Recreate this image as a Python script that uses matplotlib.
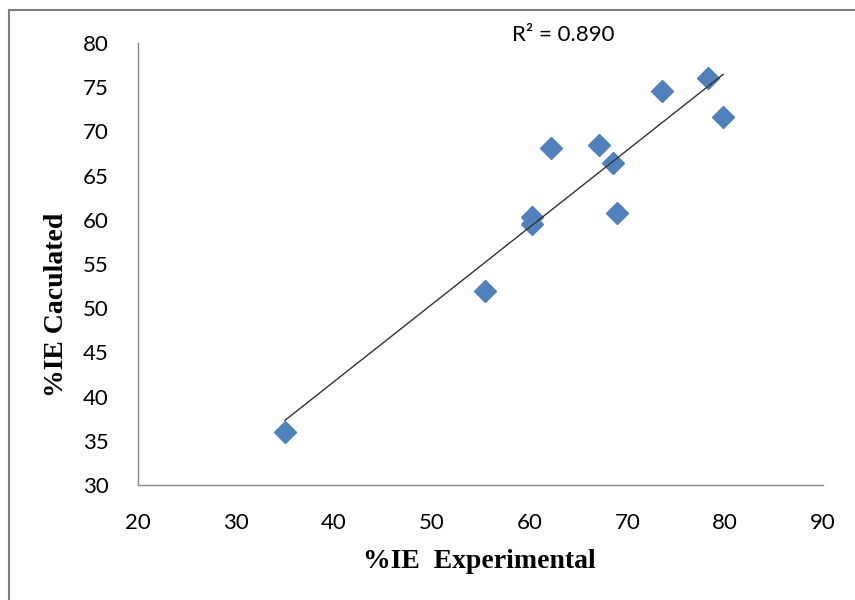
import numpy as np
import matplotlib
matplotlib.use("Agg")
from matplotlib import pyplot as plt
from matplotlib.lines import Line2D

# data
ie_exp = [35.0, 55.5, 60.3, 60.3, 62.2, 67.1, 68.5, 68.9, 73.5, 78.2, 79.8]
ie_calc = [36.0, 51.9, 60.3, 59.5, 68.1, 68.5, 66.4, 60.8, 74.6, 76.0, 71.6]
r2_text = "R² = 0.890"
xticks = [20, 30, 40, 50, 60, 70, 80, 90]
yticks = [30, 35, 40, 45, 50, 55, 60, 65, 70, 75, 80]

fig = plt.figure(figsize=(8.55, 6), dpi=100)
ax = fig.add_axes([0.1614, 0.1917, 0.8012, 0.7366])

ax.plot(ie_exp, ie_calc, linestyle='none', marker='D', ms=11,
        color='#4F81BD', mec='#4F81BD', zorder=3)

# linear trendline over the data range
k, b = np.polyfit(ie_exp, ie_calc, 1)
xs = np.array([min(ie_exp), max(ie_exp)])
ax.plot(xs, k * xs + b, color='#333333', lw=1.0, zorder=4)

ax.set_xlim(20, 90)
ax.set_ylim(30, 80)
ax.set_xticks(xticks)
ax.set_yticks(yticks)
tickfont = ['Lato', 'DejaVu Sans']
for lab in ax.get_xticklabels() + ax.get_yticklabels():
    lab.set_family(tickfont)
    lab.set_fontsize(16)
ax.tick_params(length=0)
ax.tick_params(axis='x', pad=20)
ax.tick_params(axis='y', pad=21)

for s in ['top', 'right']:
    ax.spines[s].set_visible(False)
for s in ['left', 'bottom']:
    ax.spines[s].set_color('#888888')
    ax.spines[s].set_linewidth(1.0)

ax.set_xlabel('%IE  Experimental', family='Liberation Serif',
              fontweight='bold', fontsize=20)
ax.set_ylabel('%IE Caculated', family='Liberation Serif',
              fontweight='bold', fontsize=20)
ax.xaxis.set_label_coords(0.499, -0.145)
ax.yaxis.set_label_coords(-0.1, 0.407)

fig.text(563 / 855, 1 - 35 / 600, r2_text, ha='center', va='center',
         fontsize=16, family=tickfont)

# outer chart border (left and top edges are visible)
fig.add_artist(Line2D([9 / 855, 9 / 855], [0, 1 - 10 / 600],
                      transform=fig.transFigure, color='#7f7f7f', lw=1.5))
fig.add_artist(Line2D([9 / 855, 1], [1 - 10 / 600, 1 - 10 / 600],
                      transform=fig.transFigure, color='#7f7f7f', lw=1.5))

fig.savefig('out.png', dpi=100)
